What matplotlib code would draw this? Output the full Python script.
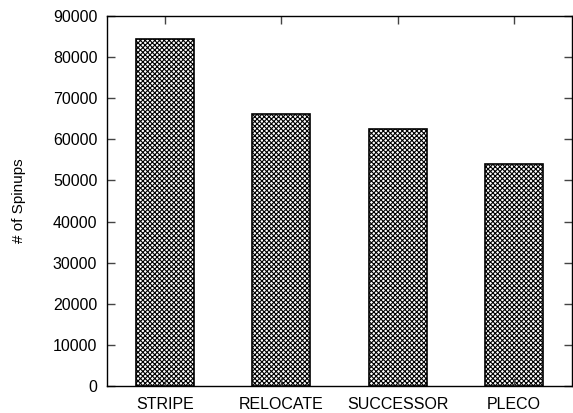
import matplotlib
matplotlib.use("Agg")
import matplotlib.pyplot as plt

methods = ['STRIPE', 'RELOCATE', 'SUCCESSOR', 'PLECO']
spinups = [84400, 66200, 62500, 54000]

plt.rcParams['font.family'] = ['Liberation Sans', 'DejaVu Sans']
plt.rcParams['hatch.linewidth'] = 0.8

fig = plt.figure(figsize=(5.73, 4.13), dpi=100)
ax = fig.add_axes([0.1867, 0.0654, 0.8115, 0.8959])

x = range(len(methods))
ax.bar(x, spinups, width=0.5, facecolor='white', edgecolor='black',
       hatch='xxxxxxx', linewidth=1.2)

ax.set_xlim(-0.5, 3.5)
ax.set_ylim(0, 90000)
ax.set_yticks(range(0, 90001, 10000))
ax.set_xticks(list(x))
ax.set_xticklabels(methods)
ax.set_ylabel('# of Spinups', fontsize=11, labelpad=19)

ax.tick_params(axis='both', direction='in', length=6, width=1,
               labelsize=11.5, top=True, right=True, color='#444444')
ax.tick_params(axis='x', pad=8)
ax.tick_params(axis='y', pad=7)
for s in ax.spines.values():
    s.set_linewidth(1.0)

fig.savefig('out.png', dpi=100)
